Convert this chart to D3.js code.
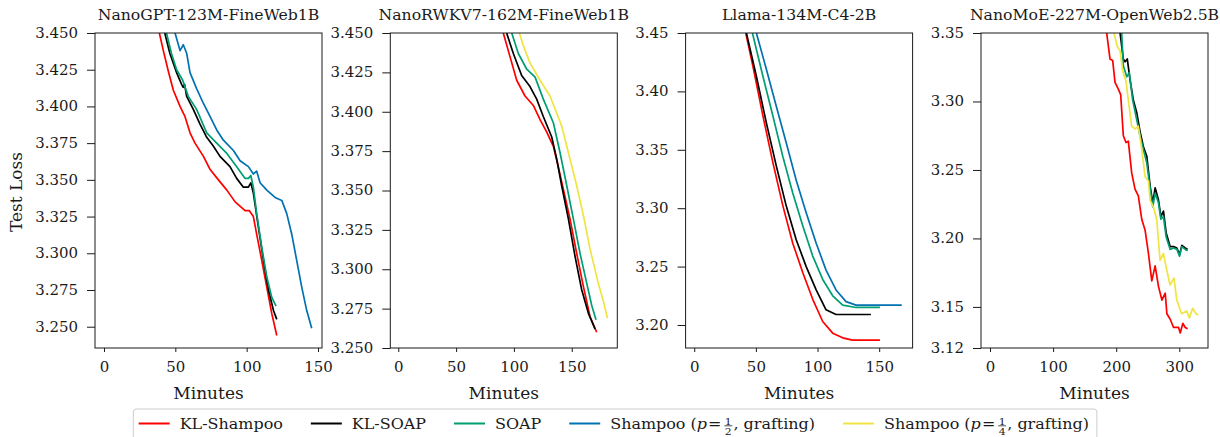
<!DOCTYPE html>
<html><head><meta charset="utf-8">
<script src="https://cdn.jsdelivr.net/npm/d3@7"></script>
<style>
body{margin:0;background:#fff}
svg{display:block}
text{font-family:"DejaVu Serif",serif;fill:#1a1a1a}
</style>
</head><body>
<svg id="c" width="1220" height="437"></svg>
<script>
// ---------- data ----------
const titles = ["NanoGPT-123M-FineWeb1B","NanoRWKV7-162M-FineWeb1B","Llama-134M-C4-2B","NanoMoE-227M-OpenWeb2.5B"];
const seriesNames = ["KL-Shampoo","KL-SOAP","SOAP","Shampoo (p=1/2, grafting)","Shampoo (p=1/4, grafting)"];
const seriesColors = ["#ff0000","#000000","#009e73","#0072b2","#f0e442"];
const xTicks = [[0,50,100,150],[0,50,100,150],[0,50,100,150],[0,100,200,300]];
const yTicks = [
  [3.250,3.275,3.300,3.325,3.350,3.375,3.400,3.425,3.450],
  [3.250,3.275,3.300,3.325,3.350,3.375,3.400,3.425,3.450],
  [3.20,3.25,3.30,3.35,3.40,3.45],
  [3.12,3.15,3.20,3.25,3.30,3.35]
];
const yFormats = [".3f",".3f",".2f",".2f"];
const xDomains = [[-6.3,152.8],[-6.9,189.4],[-7.0,177.1],[-14.3,345.5]];
const yDomains = [[3.2355,3.45],[3.25,3.45],[3.1803,3.45],[3.12,3.35]];

const gptKLShampoo = [[38.8,3.450],[41.6,3.438],[45.1,3.424],[48.6,3.411],[53.3,3.400],[56.8,3.393],[60.3,3.382],[63.8,3.375],[69.7,3.366],[74.4,3.357],[80.2,3.350],[86.1,3.343],[91.9,3.335],[98.9,3.329],[101.9,3.329],[104.7,3.325],[107.0,3.313],[110.6,3.295],[114.1,3.277],[117.6,3.259],[121.1,3.244]];
const gptKLSOAP = [[42.6,3.450],[46.2,3.436],[50.9,3.423],[54.4,3.415],[55.5,3.413],[56.5,3.415],[57.9,3.407],[62.6,3.398],[67.3,3.388],[72.0,3.379],[76.6,3.373],[81.3,3.366],[88.3,3.359],[93.0,3.351],[97.7,3.345],[101.2,3.345],[102.9,3.348],[104.7,3.341],[108.2,3.318],[111.8,3.295],[115.3,3.275],[118.8,3.261],[121.1,3.255]];
const gptSOAP = [[43.8,3.450],[47.3,3.436],[50.9,3.425],[55.1,3.418],[59.0,3.407],[64.9,3.398],[72.0,3.382],[79.0,3.375],[86.1,3.368],[93.0,3.359],[98.9,3.351],[101.2,3.351],[102.9,3.353],[104.7,3.345],[107.0,3.327],[110.6,3.304],[114.1,3.284],[117.6,3.270],[120.6,3.264]];
const gptShampooHalf = [[49.8,3.450],[53.3,3.438],[55.6,3.442],[58.0,3.436],[60.3,3.423],[65.0,3.412],[69.7,3.402],[74.4,3.393],[79.0,3.384],[83.7,3.377],[90.7,3.370],[95.4,3.363],[101.2,3.359],[104.7,3.354],[107.0,3.356],[109.4,3.348],[114.1,3.343],[119.9,3.338],[124.6,3.336],[128.1,3.327],[131.6,3.313],[135.1,3.295],[138.6,3.277],[142.1,3.261],[145.6,3.249]];

const rwkvKLShampoo = [[90.8,3.450],[96.6,3.435],[102.4,3.420],[109.6,3.410],[116.8,3.404],[122.6,3.395],[128.4,3.387],[134.1,3.378],[138.4,3.365],[142.7,3.351],[148.5,3.332],[154.3,3.310],[160.1,3.289],[165.8,3.270],[171.6,3.260]];
const rwkvKLSOAP = [[93.7,3.450],[99.5,3.437],[106.7,3.423],[113.9,3.416],[119.7,3.408],[125.4,3.397],[132.7,3.384],[137.0,3.370],[141.3,3.353],[147.1,3.332],[152.9,3.308],[158.6,3.287],[164.4,3.272],[170.2,3.262]];
const rwkvSOAP = [[98.1,3.450],[103.8,3.437],[111.1,3.427],[118.3,3.422],[125.4,3.408],[134.1,3.393],[139.9,3.374],[145.7,3.353],[151.4,3.332],[157.2,3.310],[163.0,3.291],[167.3,3.277],[171.0,3.268]];
const rwkvShampooQuarter = [[104.7,3.450],[108.1,3.442],[113.9,3.431],[122.6,3.420],[131.2,3.410],[141.3,3.391],[148.5,3.370],[154.3,3.353],[160.1,3.334],[165.8,3.313],[173.0,3.291],[177.3,3.280],[180.8,3.269]];

const llamaKLShampoo = [[41.8,3.450],[47.7,3.421],[55.7,3.379],[63.8,3.339],[71.9,3.302],[79.9,3.270],[88.0,3.245],[96.1,3.222],[104.2,3.203],[112.3,3.193],[120.4,3.189],[128.4,3.187],[150.6,3.187]];
const llamaKLSOAP = [[42.3,3.450],[50.4,3.413],[58.5,3.373],[66.6,3.336],[74.6,3.302],[82.7,3.273],[90.8,3.250],[98.9,3.230],[106.9,3.213],[115.0,3.209],[125.8,3.209],[143.3,3.209]];
const llamaSOAP = [[47.2,3.450],[55.7,3.413],[63.8,3.379],[71.9,3.344],[79.9,3.313],[88.0,3.285],[96.1,3.259],[104.2,3.239],[112.3,3.225],[120.4,3.217],[131.2,3.215],[150.6,3.215]];
const llamaShampooHalf = [[50.4,3.450],[58.5,3.419],[66.6,3.387],[74.6,3.356],[82.7,3.324],[90.8,3.296],[98.9,3.270],[106.9,3.247],[115.0,3.230],[123.1,3.220],[131.2,3.217],[141.9,3.217],[168.3,3.217]];

const moeKLShampoo = [[184.9,3.350],[190.2,3.331],[194.4,3.330],[198.1,3.314],[203.4,3.309],[207.1,3.305],[211.3,3.275],[215.5,3.270],[219.2,3.271],[224.5,3.248],[229.8,3.236],[235.1,3.231],[240.5,3.214],[245.8,3.206],[251.1,3.189],[256.4,3.169],[261.7,3.180],[267.0,3.165],[272.4,3.155],[277.7,3.160],[280.3,3.145],[285.6,3.141],[290.9,3.135],[296.2,3.135],[298.9,3.135],[301.5,3.131],[305.7,3.138],[309.4,3.135],[313.2,3.134]];
const moeKLSOAP = [[206.1,3.350],[211.3,3.331],[214.0,3.329],[217.6,3.331],[221.9,3.316],[227.2,3.301],[232.5,3.292],[237.8,3.278],[243.1,3.267],[248.5,3.260],[253.8,3.238],[258.0,3.226],[261.7,3.237],[267.0,3.228],[270.8,3.216],[274.9,3.220],[279.2,3.204],[285.6,3.194],[290.9,3.194],[296.2,3.193],[300.4,3.188],[304.1,3.195],[309.4,3.193],[313.2,3.192]];
const moeSOAP = [[208.7,3.350],[211.3,3.326],[216.7,3.318],[220.8,3.321],[226.1,3.301],[231.5,3.289],[237.8,3.275],[243.1,3.265],[248.5,3.255],[253.8,3.236],[258.0,3.223],[261.7,3.233],[267.0,3.226],[270.8,3.214],[274.9,3.216],[279.2,3.201],[285.6,3.192],[290.9,3.193],[296.2,3.192],[300.4,3.187],[304.1,3.194],[309.4,3.192],[313.2,3.191]];
const moeShampooQuarter = [[196.5,3.350],[201.8,3.340],[206.1,3.337],[210.4,3.322],[215.5,3.315],[219.2,3.301],[224.5,3.282],[229.8,3.280],[235.1,3.282],[240.5,3.265],[245.8,3.245],[251.1,3.242],[253.6,3.228],[258.9,3.223],[264.2,3.214],[269.5,3.184],[274.8,3.189],[280.1,3.177],[285.3,3.166],[291.6,3.171],[296.0,3.155],[303.7,3.145],[311.7,3.147],[315.9,3.142],[321.2,3.149],[326.4,3.145],[330.2,3.144]];

// series index refers to seriesNames / seriesColors
const panelSeries = [
  [[0,gptKLShampoo],[1,gptKLSOAP],[2,gptSOAP],[3,gptShampooHalf]],
  [[0,rwkvKLShampoo],[1,rwkvKLSOAP],[2,rwkvSOAP],[4,rwkvShampooQuarter]],
  [[0,llamaKLShampoo],[1,llamaKLSOAP],[2,llamaSOAP],[3,llamaShampooHalf]],
  [[0,moeKLShampoo],[1,moeKLSOAP],[2,moeSOAP],[4,moeShampooQuarter]]
];

// ---------- layout ----------
const svg = d3.select("#c");
const PW = 227, PT = 33, PB = 348;
const lefts = [95, 390.3, 685.6, 981];
const TICK_SX = 1.07, TITLE_SX = 1.12, LEG_SX = 1.14;

function stretchText(sel, sx){
  sel.selectAll("text").each(function(){
    const x = +this.getAttribute("x") || 0;
    this.setAttribute("x", 0);
    this.setAttribute("transform", `translate(${x},0) scale(${sx},1)`);
  });
}

panelSeries.forEach((series, i) => {
  const L = lefts[i];
  const x = d3.scaleLinear().domain(xDomains[i]).range([L, L + PW]);
  const y = d3.scaleLinear().domain(yDomains[i]).range([PB, PT]);
  const g = svg.append("g");

  g.append("clipPath").attr("id", "clip" + i)
    .append("rect").attr("x", L).attr("y", PT).attr("width", PW).attr("height", PB - PT);

  const line = d3.line().x(d => x(d[0])).y(d => y(d[1]));
  const lg = g.append("g").attr("clip-path", `url(#clip${i})`);
  series.forEach(([si, data]) => {
    lg.append("path").datum(data).attr("d", line)
      .attr("fill", "none").attr("stroke", seriesColors[si])
      .attr("stroke-width", 1.7).attr("stroke-linejoin", "round").attr("stroke-linecap", "butt");
  });

  const ya = g.append("g").attr("transform", `translate(${L},0)`)
    .call(d3.axisLeft(y).tickValues(yTicks[i]).tickFormat(d3.format(yFormats[i])).tickSize(8).tickPadding(9));
  const xa = g.append("g").attr("transform", `translate(0,${PB})`)
    .call(d3.axisBottom(x).tickValues(xTicks[i]).tickFormat(d3.format("d")).tickSize(4).tickPadding(10));
  [ya, xa].forEach(a => {
    a.select(".domain").remove();
    a.selectAll(".tick line").attr("stroke", "#1a1a1a").attr("stroke-width", 1);
    a.selectAll("text").attr("font-size", 14).attr("font-family", "DejaVu Serif").attr("fill", "#1a1a1a");
    stretchText(a, TICK_SX);
  });

  g.append("rect").attr("x", L).attr("y", PT).attr("width", PW).attr("height", PB - PT)
    .attr("fill", "none").attr("stroke", "#1a1a1a").attr("stroke-width", 1);

  g.append("text").attr("transform", `translate(${L + PW / 2},19.5) scale(${TITLE_SX},1)`)
    .attr("text-anchor", "middle").attr("font-size", 14).text(titles[i]);

  g.append("text").attr("x", L + PW / 2).attr("y", 399)
    .attr("text-anchor", "middle").attr("font-size", 17).text("Minutes");
});

svg.append("text").attr("transform", "translate(22,192) rotate(-90)")
  .attr("text-anchor", "middle").attr("font-size", 17).text("Test Loss");

// ---------- legend ----------
function parseLabel(s){
  const m = s.match(/^(.*\()p=(\d)\/(\d)(,.*)$/);
  if (!m) return [{t: s}];
  return [{t: m[1]}, {t: "p", it: true}, {t: "="}, {frac: [m[2], m[3]]}, {t: m[4]}];
}
const leg = svg.append("g");
const box = leg.append("rect");
let cx = 138.7;
const LY = 423.5, TB = 429;
seriesNames.forEach((name, si) => {
  leg.append("line").attr("x1", cx).attr("x2", cx + 31).attr("y1", LY).attr("y2", LY)
    .attr("stroke", seriesColors[si]).attr("stroke-width", 2);
  const tx = cx + 41;
  const tg = leg.append("g").attr("transform", `translate(${tx},${TB}) scale(${LEG_SX},1)`);
  let off = 0;
  parseLabel(name).forEach(p => {
    if (p.frac) {
      off += 2.5;
      const fw = 7;
      tg.append("text").attr("x", off + fw / 2).attr("y", -4.5).attr("text-anchor", "middle").attr("font-size", 9.5).text(p.frac[0]);
      tg.append("line").attr("x1", off).attr("x2", off + fw).attr("y1", -3.2).attr("y2", -3.2).attr("stroke", "#1a1a1a").attr("stroke-width", 0.7);
      tg.append("text").attr("x", off + fw / 2).attr("y", 5.5).attr("text-anchor", "middle").attr("font-size", 9.5).text(p.frac[1]);
      off += fw + 1;
    } else {
      const t = tg.append("text").attr("x", off).attr("y", 0).attr("font-size", 14).text(p.t);
      if (p.it) t.attr("font-style", "italic");
      off += t.node().getComputedTextLength() + (p.it ? 1 : 0);
    }
  });
  cx = tx + off * LEG_SX + 28;
});
box.attr("x", 133.3).attr("y", 409).attr("width", cx - 28 + 8 - 133.3).attr("height", 40)
  .attr("rx", 3).attr("fill", "#fff").attr("stroke", "#cccccc").attr("stroke-width", 1);
</script>
</body></html>
